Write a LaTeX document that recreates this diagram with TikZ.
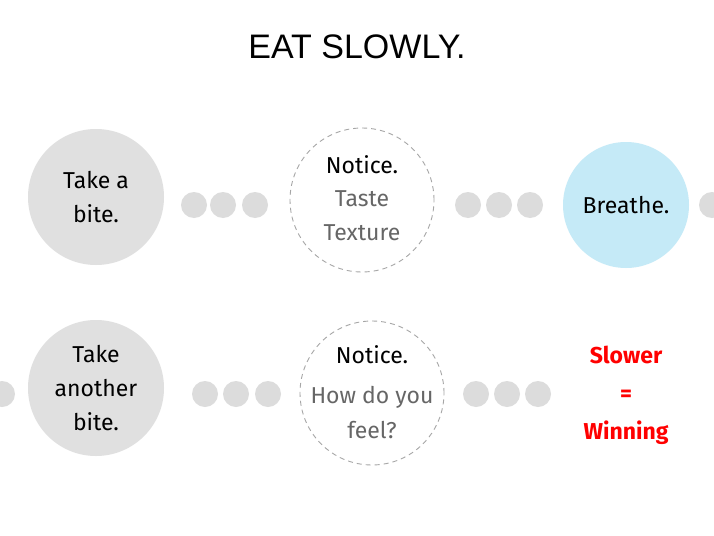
\documentclass[tikz,border=0pt]{standalone}
\usepackage{fontspec}
\setmainfont{Fira Sans}
\newfontfamily\titlefont{Liberation Sans}
\definecolor{dotgray}{HTML}{DCDCDC}
\definecolor{bigray}{HTML}{E0E0E0}
\definecolor{skyb}{HTML}{C5EAF7}
\definecolor{txtgray}{HTML}{666666}
\tikzset{
 dot/.style={circle,fill=dotgray,minimum size=26pt,inner sep=0pt},
 bigc/.style={circle,fill=bigray,minimum size=136pt,inner sep=0pt,align=center,font=\fontsize{23}{34}\selectfont},
 dashc/.style={circle,draw=gray!70,dash pattern=on 5pt off 4pt,line width=0.9pt,minimum size=144pt,inner sep=0pt},
 txt/.style={font=\fontsize{23}{34}\selectfont,inner sep=0pt},
}
\begin{document}
\begin{tikzpicture}[x=1pt,y=-1pt]
\useasboundingbox[fill=white] (0,0) rectangle (714,535);
\node[font=\titlefont\fontsize{34}{40}\selectfont] (title) at (357,47) {EAT SLOWLY.};
% row 1
\node[bigc] (c1) at (96,197) {Take a\\bite.};
\node[dot] (d1) at (194,205) {};
\node[dot] (d2) at (223,205) {};
\node[dot] (d3) at (255,205) {};
\node[dashc] (n1) at (362,200) {};
\node[txt] (n1a) at (362,165) {Notice.};
\node[txt,text=txtgray] (n1b) at (362,199) {Taste};
\node[txt,text=txtgray] (n1c) at (362,233) {Texture};
\node[dot] (d4) at (468,205) {};
\node[dot] (d5) at (499,205) {};
\node[dot] (d6) at (530,205) {};
\node[bigc,fill=skyb,minimum size=126pt] (br) at (626,205) {Breathe.};
\node[dot] (d7) at (712,205) {};
% row 2
\node[dot] (e0) at (2,394) {};
\node[bigc] (c2) at (96,388) {Take\\another\\bite.};
\node[dot] (e1) at (205,394) {};
\node[dot] (e2) at (236,394) {};
\node[dot] (e3) at (268,394) {};
\node[dashc] (n2) at (372,393) {};
\node[txt] (n2a) at (372,355) {Notice.};
\node[txt,text=txtgray] (n2b) at (372,397) {How do you};
\node[txt,text=txtgray] (n2c) at (372,430) {feel?};
\node[dot] (e4) at (476,394) {};
\node[dot] (e5) at (507,394) {};
\node[dot] (e6) at (538,394) {};
\node[txt,text=red,align=center,font=\bfseries\fontsize{23}{38}\selectfont] (win) at (626,395) {Slower\\=\\Winning};
\end{tikzpicture}
\end{document}
